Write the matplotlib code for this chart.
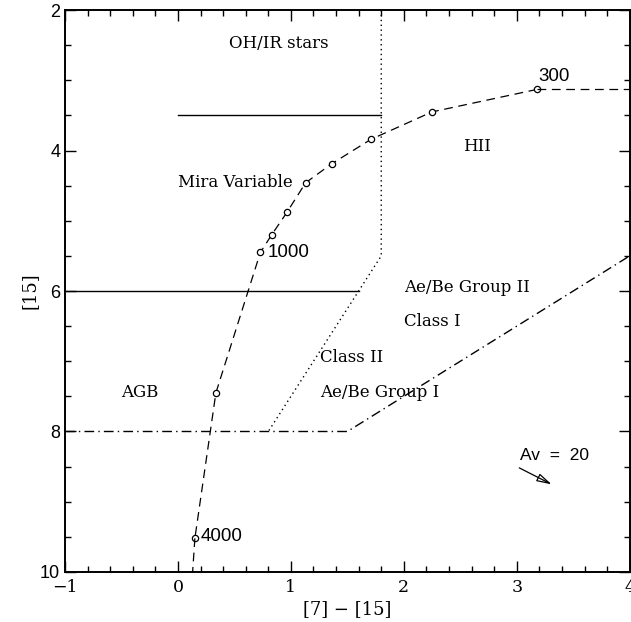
import matplotlib
matplotlib.use("Agg")
import matplotlib.pyplot as plt
from matplotlib.ticker import MultipleLocator

# Model track (dashed) with sampled points
track_x = [3.18, 2.25, 1.71, 1.36, 1.13, 0.965, 0.83, 0.73, 0.336, 0.15]
track_y = [3.13, 3.45, 3.84, 4.19, 4.46, 4.88, 5.20, 5.45, 7.45, 9.52]
track_ext_right_x = [3.18, 4.0]
track_ext_right_y = [3.13, 3.13]
track_ext_bottom_x = [0.15, 0.13]
track_ext_bottom_y = [9.52, 10.0]

# Region boundaries
solid1_x = [0.0, 1.8]
solid1_y = [3.5, 3.5]
solid2_x = [-1.0, 1.6]
solid2_y = [6.0, 6.0]
dotted_x = [1.8, 1.8, 0.8]
dotted_y = [2.0, 5.5, 8.0]
dashdot_x = [-1.0, 1.5, 4.0]
dashdot_y = [8.0, 8.0, 5.5]

# Labels
region_labels = [
    ("OH/IR stars", 0.45, 2.47),
    ("Mira Variable", 0.0, 4.46),
    ("HII", 2.52, 3.94),
    ("Ae/Be Group II", 2.0, 5.95),
    ("Class I", 2.0, 6.44),
    ("Class II", 1.26, 6.94),
    ("Ae/Be Group I", 1.26, 7.45),
    ("AGB", -0.5, 7.45),
]
number_labels = [
    ("300", 3.19, 2.95),
    ("1000", 0.79, 5.45),
    ("4000", 0.2, 9.5),
]
av_label = ("Av  =  20", 3.03, 8.34)
av_arrow_start = (3.0, 8.5)
av_arrow_end = (3.33, 8.77)

fig = plt.figure(figsize=(6.31, 6.22), dpi=100)
ax = fig.add_axes([0.103, 0.0804, 0.895, 0.9035])

dash = (0, (7, 4.5))
ax.plot(track_x, track_y, color="black", lw=0.9, linestyle=dash,
        marker="o", markersize=4.5, markerfacecolor="white",
        markeredgecolor="black", markeredgewidth=0.9)
ax.plot(track_ext_right_x, track_ext_right_y, color="black", lw=0.9, linestyle=dash)
ax.plot(track_ext_bottom_x, track_ext_bottom_y, color="black", lw=0.9, linestyle=dash)

ax.plot(solid1_x, solid1_y, color="black", lw=1.0)
ax.plot(solid2_x, solid2_y, color="black", lw=1.0)
ax.plot(dotted_x, dotted_y, color="black", lw=1.0, linestyle=(0, (1, 2.5)))
ax.plot(dashdot_x, dashdot_y, color="black", lw=1.0, linestyle=(0, (7, 3, 1, 3)))

serif = "DejaVu Serif"
sans = "Liberation Sans"
for t, x, y in region_labels:
    ax.text(x, y, t, fontsize=12, family=serif, ha="left", va="center")
for t, x, y in number_labels:
    ax.text(x, y, t, fontsize=13.5, family=sans, ha="left", va="center")
ax.text(av_label[1], av_label[2], av_label[0], fontsize=12.5, family=sans,
        ha="left", va="center")
ax.annotate("", xy=av_arrow_end, xytext=av_arrow_start,
            arrowprops=dict(arrowstyle="-|>,head_length=0.9,head_width=0.25",
                            color="black", lw=0.9, fill=False))

ax.set_xlim(-1, 4)
ax.set_ylim(10, 2)
ax.xaxis.set_major_locator(MultipleLocator(1))
ax.xaxis.set_minor_locator(MultipleLocator(0.2))
ax.yaxis.set_major_locator(MultipleLocator(2))
ax.yaxis.set_minor_locator(MultipleLocator(0.5))
ax.tick_params(which="both", direction="in", top=True, right=True, width=1.0)
ax.tick_params(which="major", length=8)
ax.tick_params(which="minor", length=4.5)
ax.tick_params(axis="x", pad=5)
for s in ax.spines.values():
    s.set_linewidth(1.4)
for lab in ax.get_xticklabels():
    lab.set_fontfamily(serif)
    lab.set_fontsize(12.5)
for lab in ax.get_yticklabels():
    lab.set_fontfamily(sans)
    lab.set_fontsize(13)

ax.set_xlabel("[7] \u2212 [15]", fontsize=13, family=serif, labelpad=3)
ax.set_ylabel("[15]", fontsize=13, family=serif, labelpad=1)

fig.savefig("out.png", dpi=100)
